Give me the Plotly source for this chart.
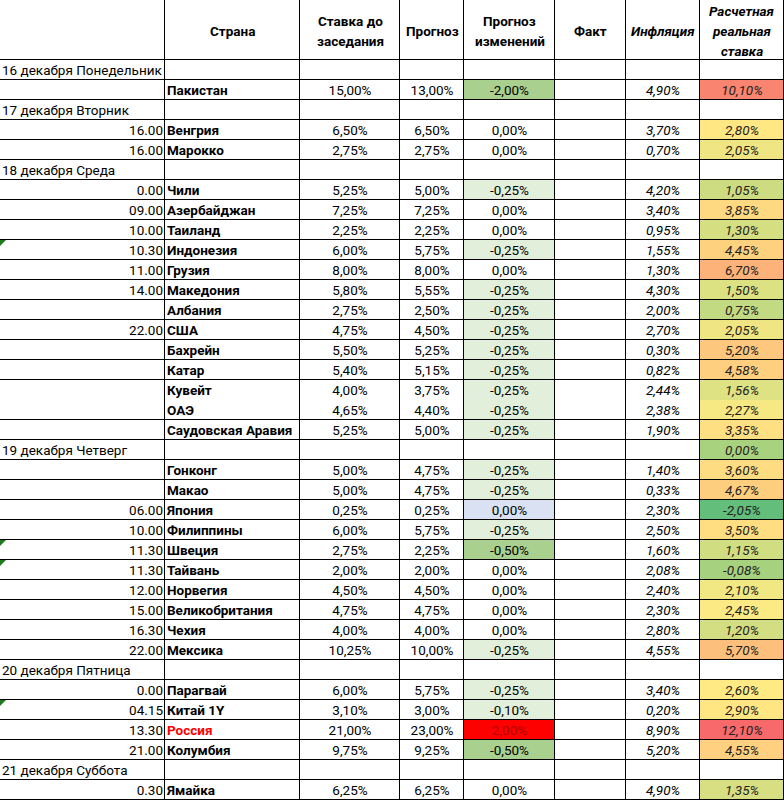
import plotly.graph_objects as go
from plotly.colors import sample_colorscale
import numpy as np

# --- data (None = empty cell) ---
slots = ["16 декабря Понедельник", "", "17 декабря Вторник", "16.00", "16.00",
         "18 декабря Среда", "0.00", "09.00", "10.00", "10.30", "11.00", "14.00", "",
         "22.00", "", "", "", "", "", "19 декабря Четверг", "", "", "06.00", "10.00",
         "11.30", "11.30", "12.00", "15.00", "16.30", "22.00", "20 декабря Пятница",
         "0.00", "04.15", "13.30", "21.00", "21 декабря Суббота", "0.30"]
countries = ["", "Пакистан", "", "Венгрия", "Марокко", "", "Чили", "Азербайджан",
             "Таиланд", "Индонезия", "Грузия", "Македония", "Албания", "США", "Бахрейн",
             "Катар", "Кувейт", "ОАЭ", "Саудовская Аравия", "", "Гонконг", "Макао",
             "Япония", "Филиппины", "Швеция", "Тайвань", "Норвегия", "Великобритания",
             "Чехия", "Мексика", "", "Парагвай", "Китай 1Y", "Россия", "Колумбия", "",
             "Ямайка"]
rate_before = [None, 15.00, None, 6.50, 2.75, None, 5.25, 7.25, 2.25, 6.00, 8.00, 5.80,
               2.75, 4.75, 5.50, 5.40, 4.00, 4.65, 5.25, None, 5.00, 5.00, 0.25, 6.00,
               2.75, 2.00, 4.50, 4.75, 4.00, 10.25, None, 6.00, 3.10, 21.00, 9.75, None,
               6.25]
forecast = [None, 13.00, None, 6.50, 2.75, None, 5.00, 7.25, 2.25, 5.75, 8.00, 5.55,
            2.50, 4.50, 5.25, 5.15, 3.75, 4.40, 5.00, None, 4.75, 4.75, 0.25, 5.75,
            2.25, 2.00, 4.50, 4.75, 4.00, 10.00, None, 5.75, 3.00, 23.00, 9.25, None,
            6.25]
change = [None, -2.00, None, 0.00, 0.00, None, -0.25, 0.00, 0.00, -0.25, 0.00, -0.25,
          -0.25, -0.25, -0.25, -0.25, -0.25, -0.25, -0.25, None, -0.25, -0.25, 0.00,
          -0.25, -0.50, 0.00, 0.00, 0.00, 0.00, -0.25, None, -0.25, -0.10, 2.00, -0.50,
          None, 0.00]
inflation = [None, 4.90, None, 3.70, 0.70, None, 4.20, 3.40, 0.95, 1.55, 1.30, 4.30,
             2.00, 2.70, 0.30, 0.82, 2.44, 2.38, 1.90, None, 1.40, 0.33, 2.30, 2.50,
             1.60, 2.08, 2.40, 2.30, 2.80, 4.55, None, 3.40, 0.20, 8.90, 5.20, None,
             4.90]
real_rate = [None, 10.10, None, 2.80, 2.05, None, 1.05, 3.85, 1.30, 4.45, 6.70, 1.50,
             0.75, 2.05, 5.20, 4.58, 1.56, 2.27, 3.35, 0.00, 3.60, 4.67, -2.05, 3.50,
             1.15, -0.08, 2.10, 2.45, 1.20, 5.70, None, 2.60, 2.90, 12.10, 4.55, None,
             1.35]
headers = [[], ["Страна"], ["Ставка до", "заседания"], ["Прогноз"],
           ["Прогноз", "изменений"], ["Факт"], ["<i>Инфляция</i>"],
           ["<i>Расчетная</i>", "<i>реальная</i>", "<i>ставка</i>"]]
comment_rows = ["Индонезия", "Швеция", "Тайвань", "Китай 1Y"]
blue_rows = ["Япония"]
red_rows = ["Россия"]
merged_below = ["Кувейт"]  # no border drawn under this row

# --- layout / style ---
col_widths = [165, 135, 100, 64, 91, 71, 74, 84]
W, H = 784, 800
head_h, row_h = 60, 20
FONT = "Roboto"
FS = 13.5
n = len(countries)
edges = np.concatenate([[0], np.cumsum(col_widths)])
centers = (edges[:-1] + edges[1:]) / 2
row_top = head_h + row_h * np.arange(n)
row_mid = row_top + row_h / 2 + 1.5   # small nudge so glyphs sit mid-cell


def pct(v, italic=False):
    if v is None:
        return ""
    s = f"{v:.2f}".replace(".", ",") + "%"
    return f"<i>{s}</i>" if italic else s


def change_fill(v, c):
    if v is None:
        return None
    if c in blue_rows:
        return "#D9E1F2"
    if v > 0:
        return "#FF0000"
    if v <= -0.5:
        return "#A9D08E"
    if v < 0:
        return "#E2EFDA"
    return None


vals = [v for v in real_rate if v is not None]
lo, hi = min(vals), max(vals)
mid = np.percentile(vals, 50)
scale = [[0, "#63BE7B"], [(mid - lo) / (hi - lo), "#FFEB84"], [1, "#F8696B"]]
real_fill = [None if v is None else sample_colorscale(scale, [(v - lo) / (hi - lo)])[0]
             for v in real_rate]
chg_fill = [change_fill(v, c) for v, c in zip(change, countries)]

fig = go.Figure()

# cell fills
for k, fills in ((4, chg_fill), (7, real_fill)):
    for i, f in enumerate(fills):
        if f:
            fig.add_shape(type="rect", x0=edges[k], x1=edges[k + 1],
                          y0=row_top[i], y1=row_top[i] + row_h,
                          fillcolor=f, line_width=0, layer="below")

# grid lines
hlines = [head_h] + [row_top[i] + row_h for i in range(n) if countries[i] not in merged_below]
for y in hlines:
    y = y - 0.5 if y < H else H - 0.5
    fig.add_shape(type="line", x0=0, x1=W, y0=y, y1=y,
                  line=dict(color="black", width=1))
for x in edges[1:]:
    x = x - 0.5 if x < W else W - 0.5
    fig.add_shape(type="line", x0=x, x1=x, y0=0, y1=H,
                  line=dict(color="black", width=1))

# comment markers
for c in comment_rows:
    i = countries.index(c)
    t = row_top[i]
    fig.add_shape(type="path", line_width=0, fillcolor="#1E7B1E",
                  path=f"M 0 {t} L 6 {t} L 0 {t + 6} Z")


def text_col(texts, x, pos, colors="black"):
    idx = [i for i, s in enumerate(texts) if s]
    col = colors if isinstance(colors, str) else [colors[i] for i in idx]
    fig.add_trace(go.Scatter(
        x=[x] * len(idx), y=[row_mid[i] for i in idx], text=[texts[i] for i in idx],
        mode="text", textposition=pos, hoverinfo="skip", showlegend=False,
        textfont=dict(family=FONT, size=FS, color=col)))


is_day = ["декабря" in s for s in slots]
text_col([s if d else "" for s, d in zip(slots, is_day)], 2, "middle right")
text_col(["" if d else s for s, d in zip(slots, is_day)], edges[1] - 2, "middle left")
text_col([f"<b>{c}</b>" if c else "" for c in countries], edges[1] + 2, "middle right",
         ["#FF0000" if c in red_rows else "black" for c in countries])
text_col([pct(v) for v in rate_before], centers[2], "middle center")
text_col([pct(v) for v in forecast], centers[3], "middle center")
text_col([pct(v) for v in change], centers[4], "middle center",
         ["#B00000" if c in red_rows else "black" for c in countries])
text_col([pct(v, True) for v in inflation], centers[6], "middle center")
text_col([pct(v, True) for v in real_rate], centers[7], "middle center", "#222222")

# header labels
for k, lines in enumerate(headers):
    for j, line in enumerate(lines):
        yc = head_h / 2 + (j - (len(lines) - 1) / 2) * row_h + 1
        fig.add_annotation(x=centers[k], y=yc, text=f"<b>{line}</b>", showarrow=False,
                           font=dict(family=FONT, size=FS, color="black"))

fig.update_xaxes(range=[0, W], visible=False, fixedrange=True)
fig.update_yaxes(range=[H, 0], visible=False, fixedrange=True)
fig.update_layout(width=W, height=H, margin=dict(l=0, r=0, t=0, b=0),
                  paper_bgcolor="white", plot_bgcolor="white")
fig.write_html("out.html", config={"displayModeBar": False},
               post_script="document.body.style.margin = '0';")
